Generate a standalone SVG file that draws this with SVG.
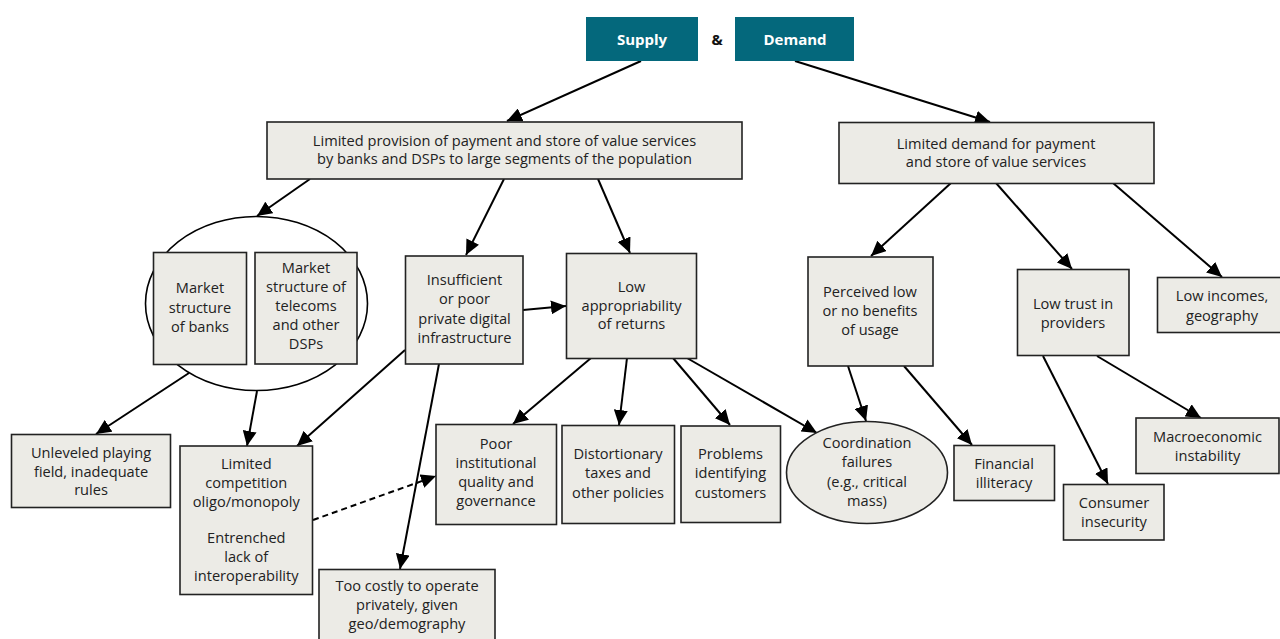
<svg xmlns="http://www.w3.org/2000/svg" width="1280" height="639" viewBox="0 0 1280 639">
<defs>
<marker id="arr" markerUnits="userSpaceOnUse" markerWidth="16" markerHeight="14" refX="15" refY="7" orient="auto">
<path d="M0,0 L15,7 L0,14 z" fill="#000"/>
</marker>
<style>
.box{fill:#ECEBE6;stroke:#222;stroke-width:1.6}
.hdr{fill:#04687C;stroke:none}
.t{font-family:"Open Sans","Noto Sans","Liberation Sans",sans-serif;font-size:14.6px;fill:#222;text-anchor:middle;dominant-baseline:central}
.h{font-family:"Open Sans","Noto Sans","Liberation Sans",sans-serif;font-size:15px;font-weight:bold;fill:#fff;text-anchor:middle;dominant-baseline:central}
.amp{font-family:"Open Sans","Noto Sans","Liberation Sans",sans-serif;font-size:15px;font-weight:bold;fill:#111;text-anchor:middle;dominant-baseline:central}
.c{stroke:#000;stroke-width:2;fill:none;marker-end:url(#arr)}
.d{stroke-dasharray:6,4}
</style>
</defs>
<rect width="1280" height="639" fill="#fff"/>

<g id="connectors">
<line class="c" x1="641" y1="61" x2="507" y2="121"/>
<line class="c" x1="795" y1="61" x2="990" y2="122"/>
<line class="c" x1="310" y1="179" x2="257" y2="216"/>
<line class="c" x1="504" y1="179" x2="466" y2="255"/>
<line class="c" x1="598" y1="179" x2="630" y2="253"/>
<line class="c" x1="523" y1="310" x2="566" y2="306"/>
<line class="c" x1="189" y1="373" x2="96" y2="434"/>
<line class="c" x1="257" y1="391" x2="247" y2="446"/>
<line class="c" x1="405" y1="350" x2="297" y2="446"/>
<line class="c" x1="439" y1="364" x2="400" y2="569"/>
<line class="c d" x1="313" y1="520" x2="436" y2="476"/>
<line class="c" x1="591" y1="358" x2="513" y2="424"/>
<line class="c" x1="627" y1="358" x2="619" y2="425"/>
<line class="c" x1="673" y1="358" x2="730" y2="425"/>
<line class="c" x1="687" y1="358" x2="817" y2="433"/>
<line class="c" x1="951" y1="183" x2="871" y2="256"/>
<line class="c" x1="996" y1="183" x2="1072" y2="269"/>
<line class="c" x1="1113" y1="183" x2="1222" y2="277"/>
<line class="c" x1="848" y1="366" x2="866" y2="421"/>
<line class="c" x1="904" y1="366" x2="972" y2="445"/>
<line class="c" x1="1043" y1="356" x2="1108" y2="484"/>
<line class="c" x1="1097" y1="356" x2="1201" y2="418"/>
</g>

<g id="supply">
<rect class="hdr" x="586" y="17" width="112" height="44"/>
<text class="h" x="642" y="39">Supply</text>
</g>
<g id="amp">
<text class="amp" x="717" y="39">&amp;</text>
</g>
<g id="demand">
<rect class="hdr" x="735" y="17" width="119" height="44"/>
<text class="h" x="795" y="39">Demand</text>
</g>

<g id="limited-provision">
<rect class="box" x="267" y="122" width="475" height="57"/>
<text class="t" x="504.5" y="139.5">Limited provision of payment and store of value services</text>
<text class="t" x="504.5" y="158">by banks and DSPs to large segments of the population</text>
</g>

<g id="limited-demand">
<rect class="box" x="839" y="122.5" width="315" height="61"/>
<text class="t" x="996" y="142.5">Limited demand for payment</text>
<text class="t" x="996" y="161">and store of value services</text>
</g>

<g id="market-ellipse">
<ellipse cx="256.5" cy="303.5" rx="111" ry="87" fill="#fff" stroke="#000" stroke-width="1.6"/>
</g>

<g id="market-banks">
<rect class="box" x="153.5" y="252.5" width="93" height="112"/>
<text class="t" x="200" y="287">Market</text>
<text class="t" x="200" y="306.5">structure</text>
<text class="t" x="200" y="326">of banks</text>
</g>

<g id="market-telecoms">
<rect class="box" x="255" y="252.5" width="102" height="111.5"/>
<text class="t" x="306" y="266.5">Market</text>
<text class="t" x="306" y="285.5">structure of</text>
<text class="t" x="306" y="305">telecoms</text>
<text class="t" x="306" y="324">and other</text>
<text class="t" x="306" y="343">DSPs</text>
</g>

<g id="insufficient">
<rect class="box" x="405.5" y="256" width="117.5" height="108"/>
<text class="t" x="464.5" y="278.5">Insufficient</text>
<text class="t" x="464.5" y="298">or poor</text>
<text class="t" x="464.5" y="317.5">private digital</text>
<text class="t" x="464.5" y="336.5">infrastructure</text>
</g>

<g id="low-appropriability">
<rect class="box" x="566.5" y="253.5" width="130" height="105"/>
<text class="t" x="631.5" y="285.5">Low</text>
<text class="t" x="631.5" y="304.5">appropriability</text>
<text class="t" x="631.5" y="323">of returns</text>
</g>

<g id="unleveled">
<rect class="box" x="11.5" y="434.5" width="159" height="73"/>
<text class="t" x="91" y="451.5">Unleveled playing</text>
<text class="t" x="91" y="470.5">field, inadequate</text>
<text class="t" x="91" y="489">rules</text>
</g>

<g id="limited-competition">
<rect class="box" x="180" y="446" width="132.5" height="148.5"/>
<text class="t" x="246.3" y="463">Limited</text>
<text class="t" x="246.3" y="481.5">competition</text>
<text class="t" x="246.3" y="501">oligo/monopoly</text>
<text class="t" x="246.3" y="536.5">Entrenched</text>
<text class="t" x="246.3" y="555.5">lack of</text>
<text class="t" x="246.3" y="575">interoperability</text>
</g>

<g id="too-costly">
<rect class="box" x="319" y="569.5" width="176" height="80"/>
<text class="t" x="407" y="584.5">Too costly to operate</text>
<text class="t" x="407" y="603.5">privately, given</text>
<text class="t" x="407" y="623">geo/demography</text>
</g>

<g id="poor-institutional">
<rect class="box" x="436" y="424.5" width="120.5" height="100"/>
<text class="t" x="496" y="443">Poor</text>
<text class="t" x="496" y="462">institutional</text>
<text class="t" x="496" y="481">quality and</text>
<text class="t" x="496" y="500">governance</text>
</g>

<g id="distortionary">
<rect class="box" x="562" y="425.5" width="112.5" height="98"/>
<text class="t" x="618" y="453">Distortionary</text>
<text class="t" x="618" y="472">taxes and</text>
<text class="t" x="618" y="491.5">other policies</text>
</g>

<g id="problems-identifying">
<rect class="box" x="681" y="426" width="99.5" height="96.5"/>
<text class="t" x="730.5" y="453">Problems</text>
<text class="t" x="730.5" y="472">identifying</text>
<text class="t" x="730.5" y="491.5">customers</text>
</g>

<g id="coordination">
<ellipse cx="867" cy="472.5" rx="80.5" ry="51" fill="#ECEBE6" stroke="#222" stroke-width="1.6"/>
<text class="t" x="867" y="442">Coordination</text>
<text class="t" x="867" y="461">failures</text>
<text class="t" x="867" y="480.5">(e.g., critical</text>
<text class="t" x="867" y="499.5">mass)</text>
</g>

<g id="perceived">
<rect class="box" x="808" y="257" width="125" height="109"/>
<text class="t" x="870" y="290.5">Perceived low</text>
<text class="t" x="870" y="309.5">or no benefits</text>
<text class="t" x="870" y="329">of usage</text>
</g>

<g id="financial-illiteracy">
<rect class="box" x="954" y="445.5" width="100.5" height="55"/>
<text class="t" x="1004" y="462.5">Financial</text>
<text class="t" x="1004" y="481.5">illiteracy</text>
</g>

<g id="low-trust">
<rect class="box" x="1017.5" y="269.5" width="111.5" height="86"/>
<text class="t" x="1073" y="302.5">Low trust in</text>
<text class="t" x="1073" y="321.5">providers</text>
</g>

<g id="low-incomes">
<rect class="box" x="1157.5" y="277.5" width="130" height="55"/>
<text class="t" x="1222" y="294.5">Low incomes,</text>
<text class="t" x="1222" y="314.5">geography</text>
</g>

<g id="macroeconomic">
<rect class="box" x="1136" y="418" width="143" height="55.5"/>
<text class="t" x="1207.5" y="435.5">Macroeconomic</text>
<text class="t" x="1207.5" y="454.5">instability</text>
</g>

<g id="consumer-insecurity">
<rect class="box" x="1063.5" y="484.5" width="100.5" height="55.5"/>
<text class="t" x="1114" y="501.5">Consumer</text>
<text class="t" x="1114" y="520.5">insecurity</text>
</g>
</svg>
